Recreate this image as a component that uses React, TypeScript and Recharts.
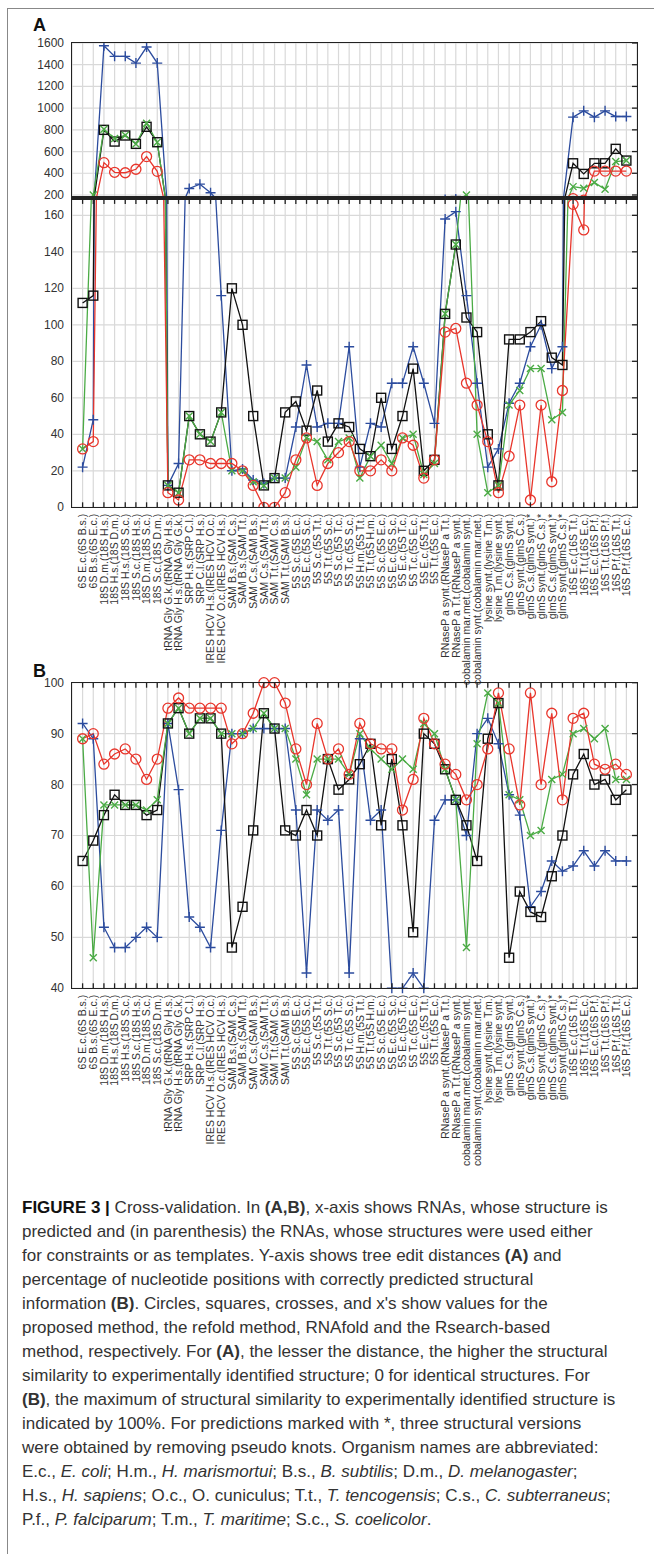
import React from 'react';
import { LineChart, Line, XAxis, YAxis, CartesianGrid } from 'recharts';

// RNA predicted (template RNA in parenthesis)
const rnaPairs = [
  '6S E.c.(6S B.s.)', '6S B.s.(6S E.c.)',
  '18S D.m.(18S H.s.)', '18S H.s.(18S D.m.)', '18S H.s.(18S S.c.)', '18S S.c.(18S H.s.)', '18S D.m.(18S S.c.)', '18S S.c.(18S D.m.)',
  'tRNA Gly G.k.(tRNA Gly H.s.)', 'tRNA Gly H.s.(tRNA Gly G.k.)',
  'SRP H.s.(SRP C.l.)', 'SRP C.l.(SRP H.s.)',
  'IRES HCV H.s.(IRES HCV O.c.)', 'IRES HCV O.c.(IRES HCV H.s.)',
  'SAM B.s.(SAM C.s.)', 'SAM B.s.(SAM T.t.)', 'SAM C.s.(SAM B.s.)', 'SAM C.s.(SAM T.t.)', 'SAM T.t.(SAM C.s.)', 'SAM T.t.(SAM B.s.)',
  '5S S.c.(5S E.c.)', '5S E.c.(5S S.c.)', '5S S.c.(5S T.t.)', '5S T.t.(5S S.c.)', '5S S.c.(5S T.c.)', '5S T.c.(5S S.c.)',
  '5S H.m.(5S T.t.)', '5S T.t.(5S H.m.)', '5S S.c.(5S E.c.)', '5S E.c.(5S S.c.)', '5S E.c.(5S T.c.)', '5S T.c.(5S E.c.)',
  '5S E.c.(5S T.t.)', '5S T.t.(5S E.c.)',
  'RNaseP a synt.(RNaseP a T.t.)', 'RNaseP a T.t.(RNaseP a synt.)',
  'cobalamin mar.met.(cobalamin synt.)', 'cobalamin synt.(cobalamin mar.met.)',
  'lysine synt.(lysine T.m.)', 'lysine T.m.(lysine synt.)',
  'glmS C.s.(glmS synt.)', 'glmS synt.(glmS C.s.)', 'glmS C.s.(glmS synt.)*', 'glmS synt.(glmS C.s.)*',
  'glmS C.s.(glmS synt.)*', 'glmS synt.(glmS C.s.)*',
  '16S E.c.(16S T.t.)', '16S T.t.(16S E.c.)', '16S E.c.(16S P.f.)', '16S T.t.(16S P.f.)', '16S P.f.(16S T.t.)', '16S P.f.(16S E.c.)',
];

// (A) tree edit distances
const proposedA = [32, 36, 498, 409, 405, 437, 554, 418, 8, 4, 26, 26, 24, 24, 24, 20, 12, 0, 0, 8, 26, 38, 12, 24, 30, 36, 20, 20, 26, 20, 38, 34, 16, 26, 96, 98, 68, 56, 36, 8, 28, 56, 4, 56, 14, 64, 166, 152, 420, 420, 420, 420];
const refoldA = [112, 116, 800, 692, 748, 671, 828, 686, 12, 8, 50, 40, 36, 52, 120, 100, 50, 12, 16, 52, 58, 42, 64, 36, 46, 44, 32, 28, 60, 32, 50, 76, 20, 26, 106, 144, 104, 96, 40, 12, 92, 92, 96, 102, 82, 78, 492, 394, 492, 492, 625, 517];
const rnafoldA = [22, 48, 1575, 1477, 1477, 1415, 1563, 1415, 12, 24, 260, 300, 220, 116, 20, 21, 15, 13, 16, 16, 44, 78, 44, 46, 46, 88, 22, 46, 44, 68, 68, 88, 68, 46, 158, 162, 116, 68, 22, 32, 57, 68, 88, 100, 76, 88, 917, 975, 917, 975, 923, 923];
const rsearchA = [32, 200, 806, 720, 750, 670, 861, 686, 12, 8, 50, 40, 36, 52, 20, 20, 14, 12, 16, 16, 22, 38, 36, 26, 36, 38, 16, 28, 34, 24, 38, 40, 18, 24, 106, 144, 200, 40, 8, 12, 56, 64, 76, 76, 48, 52, 277, 262, 314, 252, 508, 517];

// (B) percentage of correctly predicted positions
const proposedB = [89, 90, 84, 86, 87, 85, 81, 85, 95, 97, 95, 95, 95, 95, 88, 90, 94, 100, 100, 96, 87, 80, 92, 85, 87, 82, 92, 88, 87, 87, 75, 81, 93, 88, 84, 82, 77, 80, 87, 98, 87, 76, 98, 80, 94, 77, 93, 94, 84, 83, 84, 82];
const refoldB = [65, 69, 74, 78, 76, 76, 74, 75, 92, 95, 90, 93, 93, 90, 48, 56, 71, 94, 91, 71, 70, 75, 70, 85, 79, 81, 84, 88, 72, 85, 72, 51, 90, 88, 83, 77, 72, 65, 89, 96, 46, 59, 55, 54, 62, 70, 82, 86, 80, 81, 77, 79];
const rnafoldB = [92, 89, 52, 48, 48, 50, 52, 50, 92, 79, 54, 52, 48, 71, 90, 90, 91, 91, 91, 91, 75, 43, 75, 73, 75, 43, 89, 73, 75, 40, 40, 43, 40, 73, 77, 77, 70, 90, 93, 88, 78, 74, 56, 59, 65, 63, 64, 67, 64, 67, 65, 65];
const rsearchB = [89, 46, 76, 76, 76, 76, 75, 77, 92, 95, 90, 93, 93, 90, 90, 90, 91, 94, 91, 91, 85, 78, 85, 85, 85, 82, 90, 87, 85, 83, 85, 83, 92, 90, 83, 77, 48, 88, 98, 96, 78, 77, 70, 71, 81, 82, 90, 91, 89, 91, 81, 81];

const upperTicksA = [200, 400, 600, 800, 1000, 1200, 1400, 1600];
const lowerTicksA = [0, 20, 40, 60, 80, 100, 120, 140, 160];
const ticksB = [40, 50, 60, 70, 80, 90, 100];

const RED = '#e8362c';
const BLACK = '#111111';
const BLUE = '#2c4c9e';
const GREEN = '#4bab45';
const FONT = '"Liberation Sans", Arial, Helvetica, sans-serif';

const PLOT_LEFT = 72;
const PLOT_RIGHT = 637;
const PAD = 10.6;

const tableA = rnaPairs.map((name, i) => ({
  name, proposed: proposedA[i], refold: refoldA[i], rnafold: rnafoldA[i], rsearch: rsearchA[i],
}));
const tableB = rnaPairs.map((name, i) => ({
  name, proposed: proposedB[i], refold: refoldB[i], rnafold: rnafoldB[i], rsearch: rsearchB[i],
}));

const circleDot = (p: any) => (
  <circle key={`c${p.index}`} cx={p.cx} cy={p.cy} r={5} fill="none" stroke={RED} strokeWidth={1.3} />
);
const squareDot = (p: any) => (
  <rect key={`s${p.index}`} x={p.cx - 4.5} y={p.cy - 4.5} width={9} height={9} fill="none" stroke={BLACK} strokeWidth={1.4} />
);
const plusDot = (p: any) => (
  <path key={`p${p.index}`} d={`M${p.cx - 5},${p.cy}H${p.cx + 5}M${p.cx},${p.cy - 5}V${p.cy + 5}`} stroke={BLUE} strokeWidth={1.4} fill="none" />
);
const crossDot = (p: any) => (
  <path
    key={`x${p.index}`}
    d={`M${p.cx - 3.5},${p.cy - 3.5}L${p.cx + 3.5},${p.cy + 3.5}M${p.cx - 3.5},${p.cy + 3.5}L${p.cx + 3.5},${p.cy - 3.5}`}
    stroke={GREEN}
    strokeWidth={1.4}
    fill="none"
  />
);

// x tick: inward marks top and bottom, rotated label below the axis
const XTick = (props: any) => {
  const { x, y, payload, plotH, labels } = props;
  const lx = x + 3.8;
  const ly = y + 6.5;
  return (
    <g>
      <line x1={x} x2={x} y1={y} y2={y - 5} stroke="#222" strokeWidth={1.3} />
      <line x1={x} x2={x} y1={y - plotH} y2={y - plotH + 5} stroke="#222" strokeWidth={1.3} />
      {labels && (
        <text x={lx} y={ly} transform={`rotate(-90 ${lx} ${ly})`} textAnchor="end" fontSize={10.5} fill="#333" fontFamily={FONT}>
          {payload.value}
        </text>
      )}
    </g>
  );
};

// y tick: label on the left, inward mark on the right border
const YTick = (props: any) => {
  const { x, y, payload } = props;
  return (
    <g>
      <text x={x} y={y} dy={4} textAnchor="end" fontSize={12} fill="#333" fontFamily={FONT}>
        {payload.value}
      </text>
      <line x1={PLOT_RIGHT} x2={PLOT_RIGHT - 5} y1={y} y2={y} stroke="#222" strokeWidth={1.3} />
    </g>
  );
};

interface PanelProps {
  data: any[];
  top: number;
  plotTop: number;
  plotBottom: number;
  domain: [number, number];
  ticks: number[];
  labels: boolean;
  clip: boolean;
}

const Panel = ({ data, top, plotTop, plotBottom, domain, ticks, labels, clip }: PanelProps) => {
  const axisHeight = labels ? 180 : 0;
  const height = plotBottom - top + axisHeight + 4;
  const plotH = plotBottom - plotTop;
  return (
    <div style={{ position: 'absolute', left: 0, top }}>
      <LineChart
        width={654}
        height={height}
        data={data}
        margin={{ top: plotTop - top, right: 654 - PLOT_RIGHT, bottom: 4, left: 0 }}
      >
        <CartesianGrid stroke="#d9d9d9" strokeWidth={1.2} />
        <XAxis
          dataKey="name"
          interval={0}
          padding={{ left: PAD, right: PAD }}
          height={axisHeight}
          tickSize={0}
          tickMargin={0}
          tickLine={false}
          axisLine={false}
          tick={<XTick plotH={plotH} labels={labels} />}
        />
        <YAxis
          type="number"
          width={PLOT_LEFT}
          domain={domain}
          ticks={ticks}
          interval={0}
          allowDataOverflow={clip}
          tickLine={false}
          axisLine={false}
          tickSize={6}
          tickMargin={2}
          tick={<YTick />}
        />
        <Line dataKey="rnafold" stroke={BLUE} strokeWidth={1.3} dot={plusDot} activeDot={false} isAnimationActive={false} />
        <Line dataKey="refold" stroke={BLACK} strokeWidth={1.3} dot={squareDot} activeDot={false} isAnimationActive={false} />
        <Line dataKey="rsearch" stroke={GREEN} strokeWidth={1.3} dot={crossDot} activeDot={false} isAnimationActive={false} />
        <Line dataKey="proposed" stroke={RED} strokeWidth={1.3} dot={circleDot} activeDot={false} isAnimationActive={false} />
      </LineChart>
    </div>
  );
};

const frame = (top: number, bottom: number): React.CSSProperties => ({
  position: 'absolute',
  left: PLOT_LEFT - 0.8,
  top: top - 0.8,
  width: PLOT_RIGHT - PLOT_LEFT + 1.6,
  height: bottom - top + 1.6,
  border: '1.6px solid #222',
  boxSizing: 'border-box',
  pointerEvents: 'none',
});

const captionLines: React.ReactNode[] = [
  <><b style={{ color: '#111' }}>FIGURE 3 |</b> Cross-validation. In <b>(A,B)</b>, x-axis shows RNAs, whose structure is</>,
  <>predicted and (in parenthesis) the RNAs, whose structures were used either</>,
  <>for constraints or as templates. Y-axis shows tree edit distances <b>(A)</b> and</>,
  <>percentage of nucleotide positions with correctly predicted structural</>,
  <>information <b>(B)</b>. Circles, squares, crosses, and x's show values for the</>,
  <>proposed method, the refold method, RNAfold and the Rsearch-based</>,
  <>method, respectively. For <b>(A)</b>, the lesser the distance, the higher the structural</>,
  <>similarity to experimentally identified structure; 0 for identical structures. For</>,
  <><b>(B)</b>, the maximum of structural similarity to experimentally identified structure is</>,
  <>indicated by 100%. For predictions marked with *, three structural versions</>,
  <>were obtained by removing pseudo knots. Organism names are abbreviated:</>,
  <>E.c., <i>E. coli</i>; H.m., <i>H. marismortui</i>; B.s., <i>B. subtilis</i>; D.m., <i>D. melanogaster</i>;</>,
  <>H.s., <i>H. sapiens</i>; O.c., O. cuniculus; T.t., <i>T. tencogensis</i>; C.s., <i>C. subterraneus</i>;</>,
  <>P.f., <i>P. falciparum</i>; T.m., <i>T. maritime</i>; S.c., <i>S. coelicolor</i>.</>,
];

export default function App() {
  return (
    <div style={{ position: 'absolute', left: 0, top: 0, width: 654, height: 1554, overflow: 'hidden', background: '#fff', fontFamily: FONT }}>
      {/* figure box */}
      <div style={{ position: 'absolute', left: 7, top: 8, width: 647, height: 1546, borderTop: '1.5px solid #888', borderLeft: '1.5px solid #888' }} />

      <div style={{ position: 'absolute', left: 33, top: 16, fontSize: 18, lineHeight: '18px', fontWeight: 'bold', color: '#111' }}>A</div>

      {/* panel A: broken y axis drawn as two stacked charts */}
      <Panel data={tableA} top={30} plotTop={43} plotBottom={196.95} domain={[182, 1600]} ticks={upperTicksA} labels={false} clip />
      <Panel data={tableA} top={190} plotTop={198.9} plotBottom={507.3} domain={[0, 169]} ticks={lowerTicksA} labels clip />
      <div style={frame(43, 507.3)} />
      <div style={{ position: 'absolute', left: PLOT_LEFT, top: 196.3, width: PLOT_RIGHT - PLOT_LEFT, height: 3.3, background: '#222' }} />

      <div style={{ position: 'absolute', left: 33, top: 662, fontSize: 18, lineHeight: '18px', fontWeight: 'bold', color: '#111' }}>B</div>

      <Panel data={tableB} top={670} plotTop={682.7} plotBottom={988.3} domain={[40, 100]} ticks={ticksB} labels clip={false} />
      <div style={frame(682.7, 988.3)} />

      <div style={{ position: 'absolute', left: 22, top: 1196, fontSize: 17, lineHeight: '24px', color: '#333', whiteSpace: 'nowrap' }}>
        {captionLines.map((line, i) => (
          <div key={i}>{line}</div>
        ))}
      </div>
    </div>
  );
}
